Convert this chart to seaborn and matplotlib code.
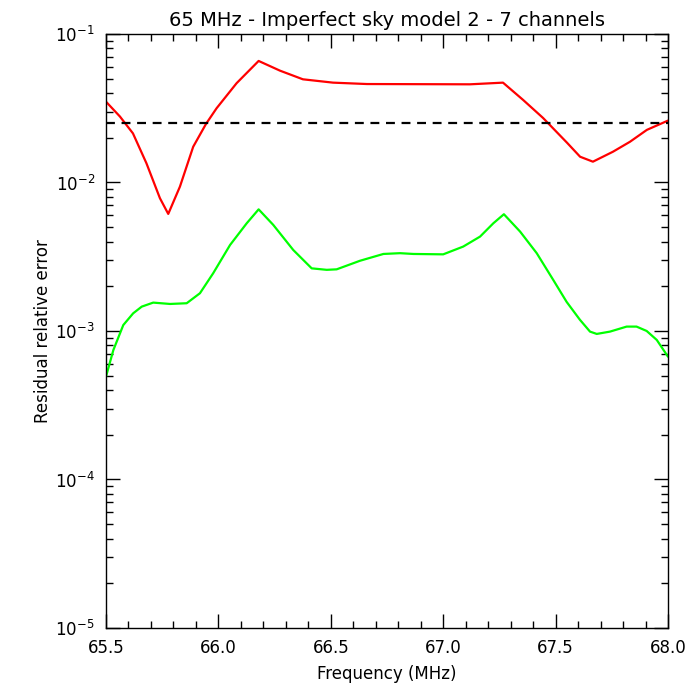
import numpy as np
import pandas as pd
import seaborn as sns
import matplotlib.pyplot as plt
from matplotlib.ticker import LogLocator, MultipleLocator, NullFormatter

# red curve (imperfect sky model, residual error)
red_freq = [65.50, 65.562, 65.62, 65.68, 65.74, 65.777, 65.829, 65.888, 65.945,
            65.992, 66.081, 66.179, 66.274, 66.376, 66.51, 66.661, 67.119, 67.266,
            67.355, 67.444, 67.551, 67.609, 67.666, 67.755, 67.831, 67.906, 68.0]
red_err = [0.0350, 0.0278, 0.0214, 0.01346, 0.00783, 0.00614, 0.00938, 0.0174, 0.0248,
           0.0316, 0.0466, 0.0658, 0.0566, 0.0495, 0.0470, 0.0460, 0.0458, 0.0470,
           0.0360, 0.0272, 0.0185, 0.0149, 0.0138, 0.0161, 0.0188, 0.0226, 0.0261]

# green curve
green_freq = [65.50, 65.533, 65.577, 65.621, 65.659, 65.71, 65.785, 65.859, 65.918,
              65.977, 66.052, 66.126, 66.179, 66.244, 66.333, 66.415, 66.482, 66.526,
              66.63, 66.734, 66.808, 66.867, 67.0, 67.089, 67.164, 67.223, 67.27,
              67.342, 67.416, 67.49, 67.549, 67.608, 67.653, 67.683, 67.742, 67.816,
              67.86, 67.905, 67.95, 68.0]
green_err = [0.000492, 0.000745, 0.001096, 0.001315, 0.001458, 0.001552, 0.00152,
             0.001537, 0.001795, 0.002449, 0.003794, 0.00531, 0.00659, 0.00518,
             0.00351, 0.00264, 0.00258, 0.0026, 0.00297, 0.0033, 0.00334, 0.0033,
             0.00328, 0.0037, 0.00432, 0.00531, 0.00611, 0.00467, 0.00334, 0.0022,
             0.00157, 0.00119, 0.00099, 0.000955, 0.00099, 0.00107, 0.00107, 0.001,
             0.00087, 0.000671]

threshold = 0.025
x_range = (65.5, 68.0)
y_range = (1e-5, 1e-1)

sns.set_style("ticks")
plt.rcParams['font.family'] = ['DejaVu Sans']
plt.rcParams['text.color'] = 'black'
plt.rcParams['axes.labelcolor'] = 'black'
plt.rcParams['xtick.color'] = 'black'
plt.rcParams['ytick.color'] = 'black'

fig = plt.figure(figsize=(7, 7), dpi=100)
ax = fig.add_axes([0.1514, 0.1029, 0.8029, 0.8486])

red_df = pd.DataFrame({'freq': red_freq, 'err': red_err})
green_df = pd.DataFrame({'freq': green_freq, 'err': green_err})
sns.lineplot(data=red_df, x='freq', y='err', color='#ff0000', linewidth=1.6, ax=ax)
sns.lineplot(data=green_df, x='freq', y='err', color='#00ff00', linewidth=1.6, ax=ax)
ax.axhline(threshold, color='black', linestyle=(0, (4, 3)), linewidth=1.6)

ax.set_yscale('log')
ax.set_xlim(*x_range)
ax.set_ylim(*y_range)

ax.xaxis.set_major_locator(MultipleLocator(0.5))
ax.xaxis.set_minor_locator(MultipleLocator(0.1))
ax.xaxis.set_major_formatter(plt.FuncFormatter(lambda v, p: f"{v:.1f}"))
ax.yaxis.set_major_locator(LogLocator(base=10, numticks=10))
ax.yaxis.set_minor_locator(LogLocator(base=10, subs=np.arange(2, 10), numticks=10))
ax.yaxis.set_minor_formatter(NullFormatter())

ax.tick_params(which='both', direction='in', top=True, right=True, color='black',
               labelcolor='black', labelsize=12, width=1)
ax.tick_params(which='major', length=10, pad=8)
ax.tick_params(which='minor', length=5)
for s in ax.spines.values():
    s.set_color('black')
    s.set_linewidth(1)

ax.set_xlabel('Frequency (MHz)', fontsize=12, labelpad=6, color='black')
ax.set_ylabel('Residual relative error', fontsize=12, labelpad=2, color='black')
ax.set_title('65 MHz - Imperfect sky model 2 - 7 channels', fontsize=14, pad=6,
             color='black')

fig.savefig('out.png', dpi=100, facecolor='white')
